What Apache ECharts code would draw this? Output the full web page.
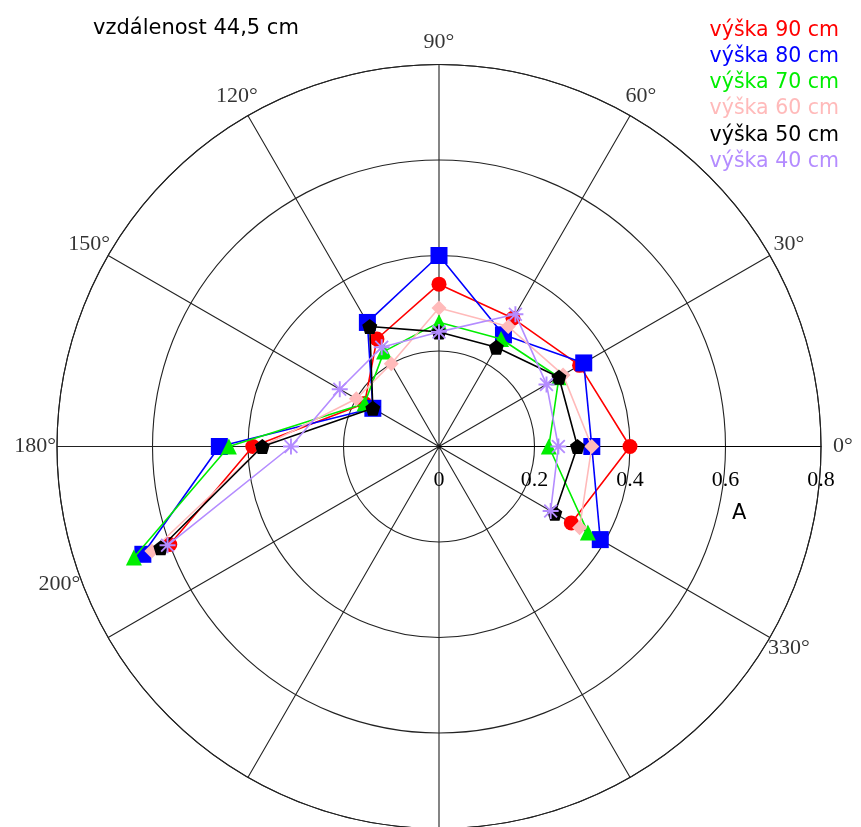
<!DOCTYPE html>
<html>
<head>
<meta charset="utf-8">
<script src="https://cdn.jsdelivr.net/npm/echarts@6/dist/echarts.min.js"></script>
<style>
  html, body { margin: 0; padding: 0; background: #fff; }
  #chart { width: 861px; height: 827px; }
</style>
</head>
<body>
<div id="chart"></div>
<script>
// Measurement directions (degrees), in the order the points are joined
const angles = [330, 0, 30, 60, 90, 120, 150, 180, 200];

// Amplitude A per height
const vyska90 = [0.32, 0.40, 0.34, 0.31, 0.34, 0.26, 0.18, 0.39, 0.60];
const vyska80 = [0.39, 0.32, 0.35, 0.27, 0.40, 0.30, 0.16, 0.46, 0.66];
const vyska70 = [0.36, 0.23, 0.29, 0.26, 0.26, 0.23, 0.18, 0.44, 0.68];
const vyska60 = [0.34, 0.32, 0.30, 0.29, 0.29, 0.20, 0.20, 0.37, 0.64];
const vyska50 = [0.28, 0.29, 0.29, 0.24, 0.24, 0.29, 0.16, 0.37, 0.62];
const vyska40 = [0.27, 0.25, 0.26, 0.32, 0.24, 0.24, 0.24, 0.31, 0.605];

const seriesNames = ['výška 90 cm', 'výška 80 cm', 'výška 70 cm', 'výška 60 cm', 'výška 50 cm', 'výška 40 cm'];

// Angle labels shown around the rim
const angleLabels = [0, 30, 60, 90, 120, 150, 180, 200, 330];

const radiusMax = 0.8;
const radiusTick = 0.2;
const labelRing = 0.846;

const PENTAGON = 'path://M50,0 L98,36 L80,95 L20,95 L2,36 Z';
const ASTERISK = 'path://M0,44 L100,44 L100,56 L0,56 Z M44,0 L56,0 L56,100 L44,100 Z ' +
  'M14,6 L94,86 L86,94 L6,14 Z M86,6 L94,14 L14,94 L6,86 Z';

const styles = [
  { data: vyska90, color: '#ff0000', symbol: 'circle', size: 15 },
  { data: vyska80, color: '#0000ff', symbol: 'rect', size: 17 },
  { data: vyska70, color: '#00ee00', symbol: 'triangle', size: 16 },
  { data: vyska60, color: '#ffbaba', symbol: 'diamond', size: 15 },
  { data: vyska50, color: '#000000', symbol: PENTAGON, size: 15 },
  { data: vyska40, color: '#b48cff', symbol: ASTERISK, size: 16 }
];

const gridColor = '#222';
const serif = 'Liberation Serif';
const sans = 'DejaVu Sans';

const chart = echarts.init(document.getElementById('chart'), null, { renderer: 'canvas' });

const series = styles.map((s, i) => ({
  name: seriesNames[i],
  type: 'line',
  coordinateSystem: 'polar',
  polarIndex: 0,
  data: s.data.map((r, k) => [r, angles[k]]),
  symbol: s.symbol,
  symbolSize: s.size,
  showAllSymbol: true,
  itemStyle: { color: s.color },
  lineStyle: { color: s.color, width: 1.6 },
  z: 10 + i
}));

series.push({
  name: 'angle-labels',
  type: 'scatter',
  coordinateSystem: 'polar',
  polarIndex: 0,
  clip: false,
  symbolSize: 0,
  silent: true,
  data: angleLabels.map(a => [labelRing, a]),
  label: {
    show: true,
    position: 'inside',
    formatter: p => p.value[1] + '°',
    fontFamily: serif,
    fontSize: 22,
    color: '#000'
  }
});

chart.setOption({
  animation: false,
  title: {
    text: 'vzdálenost 44,5 cm',
    left: 88,
    top: 13,
    textStyle: { fontFamily: sans, fontSize: 21, fontWeight: 'normal', color: '#000' }
  },
  legend: {
    data: seriesNames.map((n, i) => ({ name: n, textStyle: { color: styles[i].color } })),
    orient: 'vertical',
    right: 17,
    top: 15,
    icon: 'none',
    itemWidth: 0,
    itemHeight: 20,
    itemGap: 5.2,
    align: 'left',
    selectedMode: false,
    textStyle: { fontFamily: sans, fontSize: 20.5, padding: 0 }
  },
  polar: { center: [439, 446.5], radius: 382 },
  angleAxis: {
    type: 'value',
    min: 0,
    max: 360,
    interval: 30,
    startAngle: 0,
    clockwise: false,
    axisLine: { show: true, lineStyle: { color: gridColor, width: 1.1 } },
    axisTick: { show: false },
    axisLabel: { show: false },
    splitLine: { show: true, lineStyle: { color: gridColor, width: 1.1 } }
  },
  radiusAxis: {
    type: 'value',
    min: 0,
    max: radiusMax,
    interval: radiusTick,
    axisLine: { show: true, lineStyle: { color: '#000', width: 1.2 } },
    axisTick: { show: false },
    axisLabel: { show: true, margin: -45, fontFamily: serif, fontSize: 22, color: '#000' },
    splitLine: { show: true, lineStyle: { color: gridColor, width: 1.1 } }
  },
  graphic: [{
    type: 'text',
    left: 732,
    top: 503,
    style: { text: 'A', fontFamily: sans, fontSize: 21, fill: '#000' }
  }],
  series: series
});
</script>
</body>
</html>
